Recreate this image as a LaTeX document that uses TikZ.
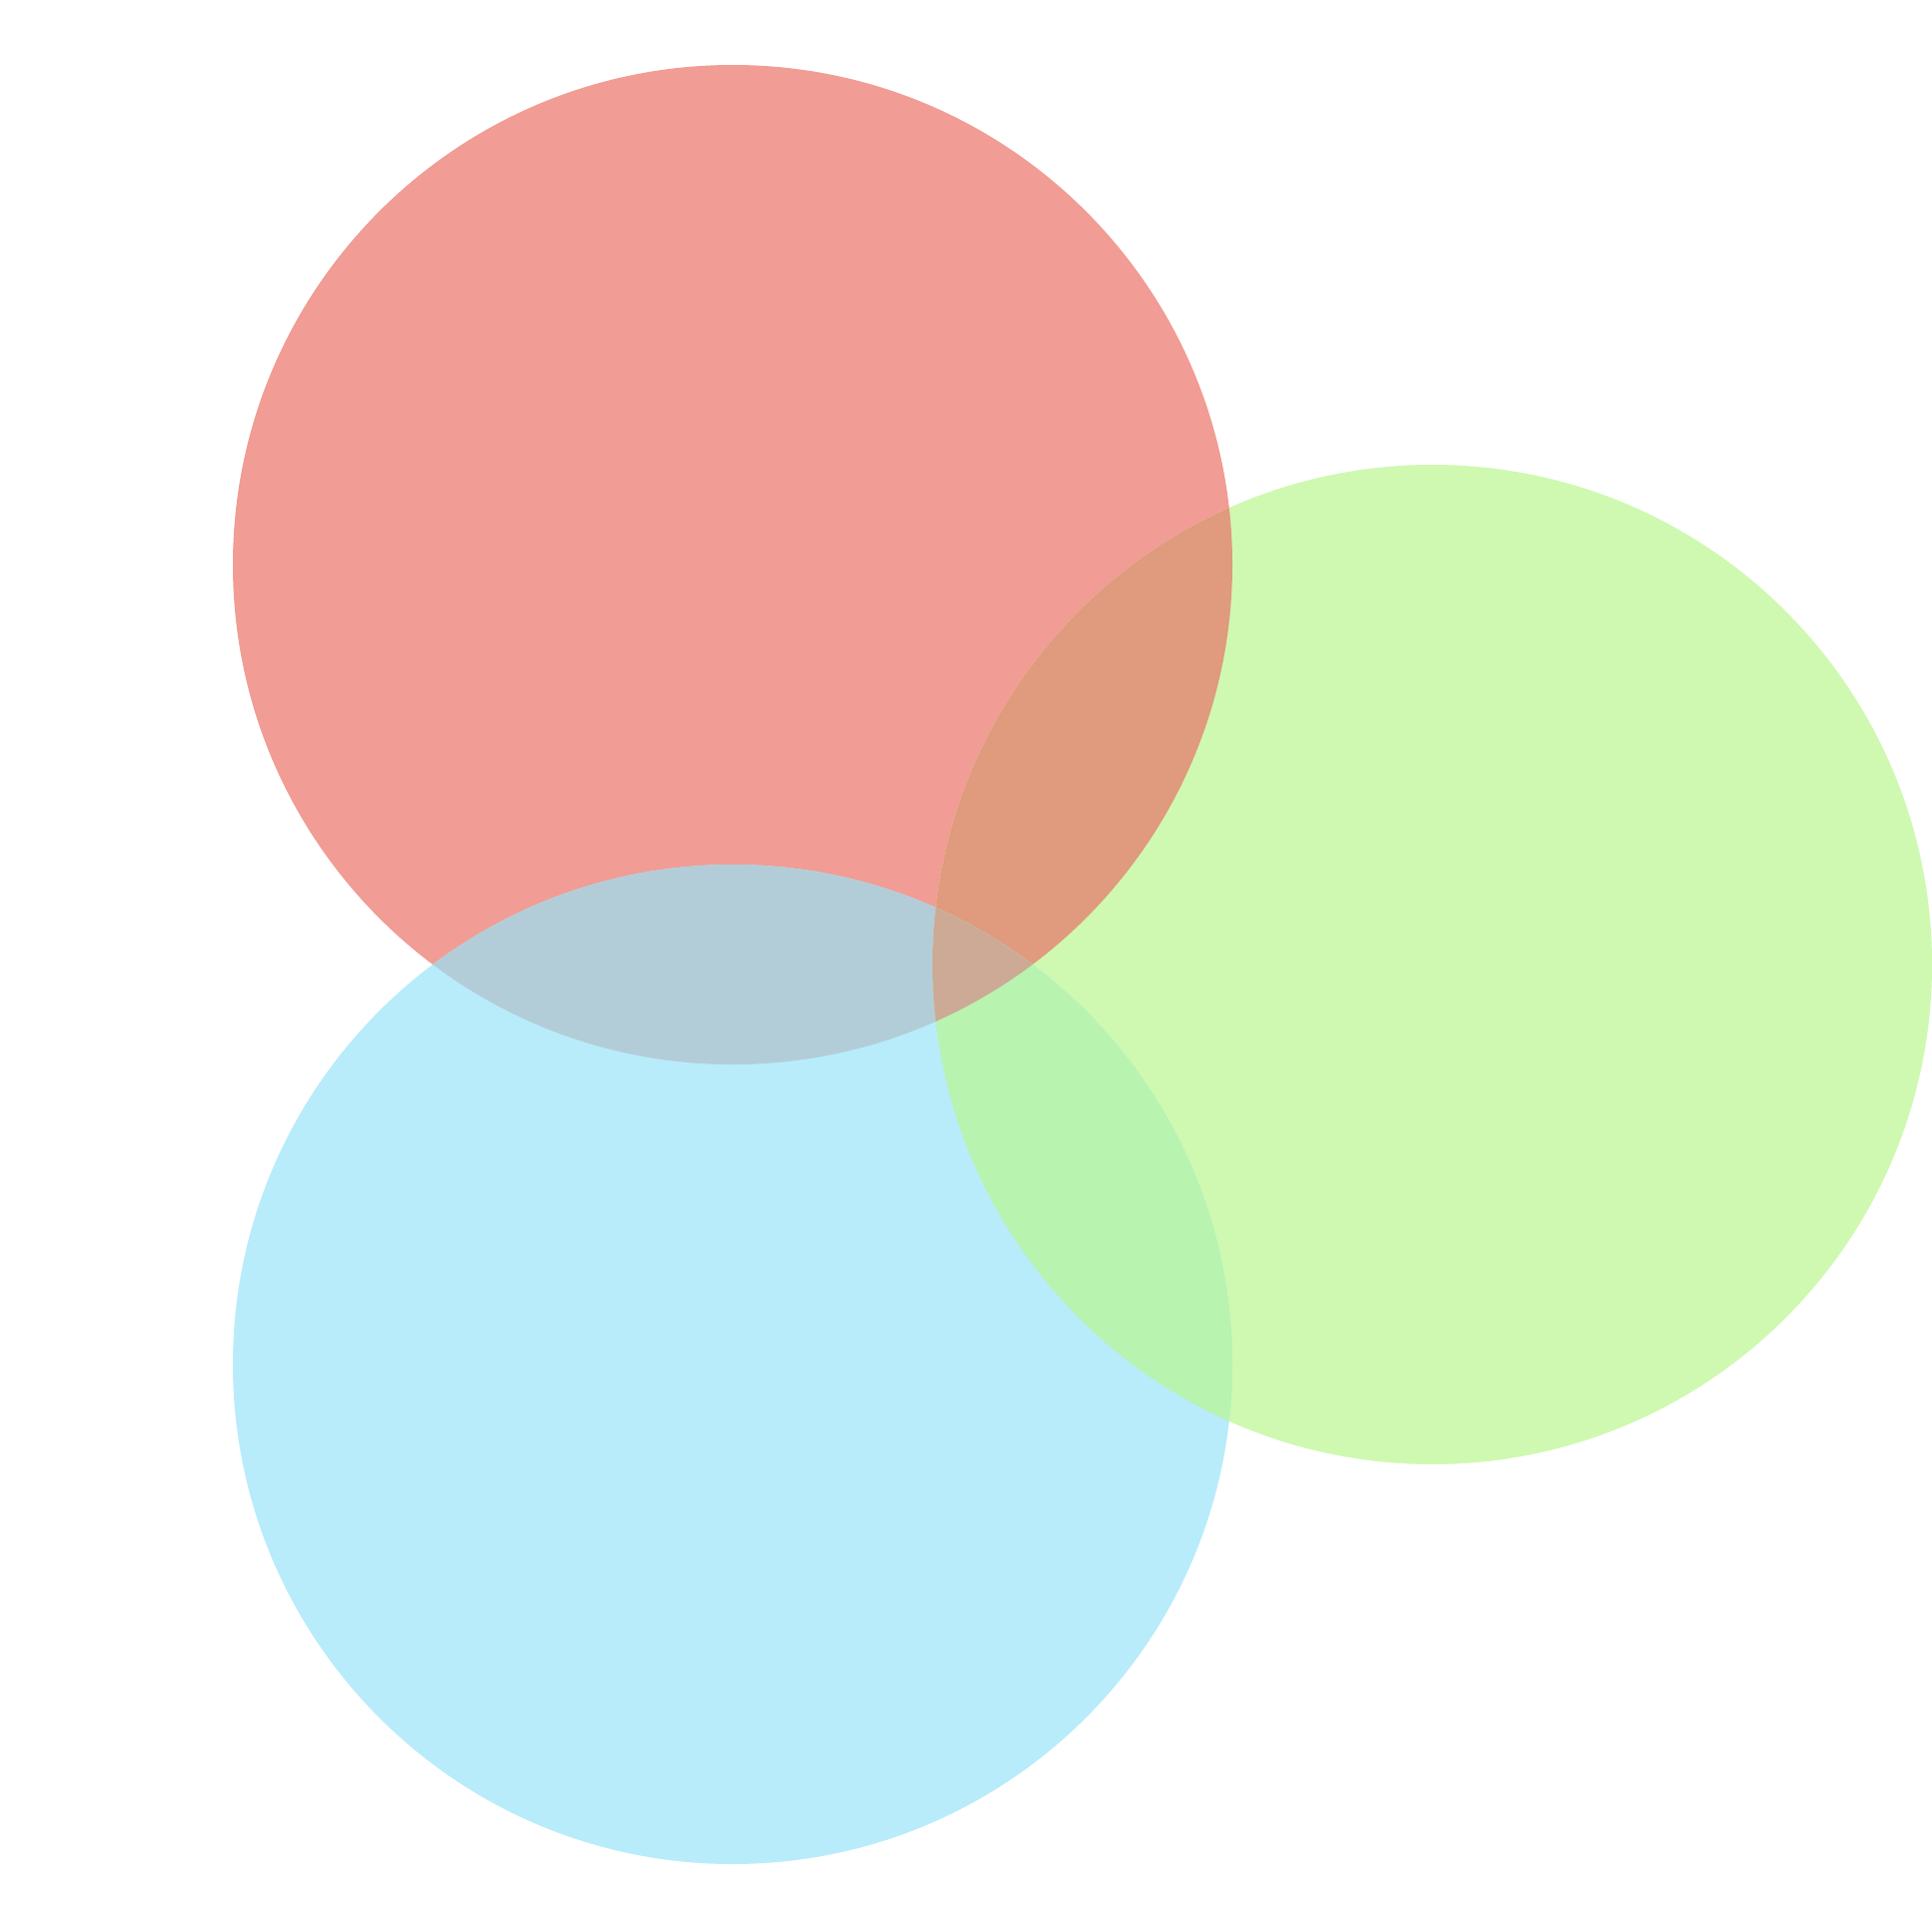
\documentclass[tikz,border=0pt]{standalone}
\definecolor{cR}{RGB}{241,156,148}
\definecolor{cG}{RGB}{207,249,177}
\definecolor{cB}{RGB}{184,236,251}
\definecolor{cRG}{RGB}{224,154,126}
\definecolor{cRB}{RGB}{179,205,216}
\definecolor{cGB}{RGB}{184,243,176}
\definecolor{cRGB}{RGB}{204,170,150}
\begin{document}
\begin{tikzpicture}[x=0.5pt,y=-0.5pt]
\useasboundingbox (0,0) rectangle (1933,1933);
\fill[white] (0,0) rectangle (1933,1933);
\coordinate (r) at (733,565);
\coordinate (b) at (733,1365);
\coordinate (g) at (1433,965);
\def\rad{500}
\fill[cR] (r) circle[radius=\rad];
\fill[cG] (g) circle[radius=\rad];
\fill[cB] (b) circle[radius=\rad];
\begin{scope}
\clip (r) circle[radius=\rad];
\fill[cRG] (g) circle[radius=\rad];
\fill[cRB] (b) circle[radius=\rad];
\end{scope}
\begin{scope}
\clip (g) circle[radius=\rad];
\fill[cGB] (b) circle[radius=\rad];
\clip (b) circle[radius=\rad];
\fill[cRGB] (r) circle[radius=\rad];
\end{scope}
\end{tikzpicture}
\end{document}
